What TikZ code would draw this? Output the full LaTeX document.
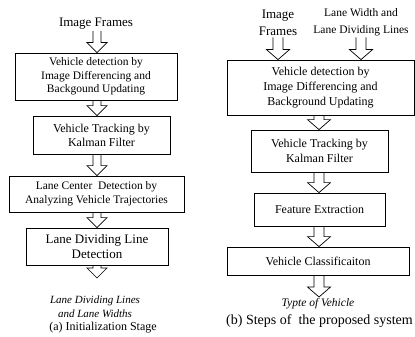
\documentclass[tikz,border=0pt]{standalone}
\usepackage{fontspec}
\setmainfont{Liberation Serif}
\usetikzlibrary{calc}

\tikzset{
  stagebox/.style={draw, line width=0.8pt, align=center, inner sep=0pt, font=\fontsize{11.5}{13.5}\selectfont},
  headtext/.style={align=center, inner sep=1pt, font=\fontsize{13}{17.5}\selectfont},
  outtext/.style={align=center, inner sep=0pt, font=\fontsize{11}{14}\selectfont\itshape},
  captext/.style={inner sep=0pt, font=\fontsize{12}{14}\selectfont}
}

% hollow block arrow, x taken from the start point
\newcommand{\bigarrow}[2]{%
  \draw[line width=0.7pt, line join=miter] let \p1=(#1), \p2=(#2) in
    (\x1-\shaft pt,\y1) -- (\x1-\shaft pt,\y2+\headlen pt) -- (\x1-\head pt,\y2+\headlen pt) -- (\x1,\y2)
    -- (\x1+\head pt,\y2+\headlen pt) -- (\x1+\shaft pt,\y2+\headlen pt) -- (\x1+\shaft pt,\y1);}

\begin{document}
\begin{tikzpicture}[x=1pt,y=-1pt]
\useasboundingbox (0,0) rectangle (415,337);

\def\shaft{4}
\def\head{10}
\def\headlen{10}

% (a) initialization stage
\coordinate (spineA) at (97,0);
\node[headtext] (frA) at (96,24) {Image Frames};
\node[stagebox, minimum width=162, minimum height=47] (detA) at (96,76.5) {Vehicle detection by\\Image Differencing and\\Backgound Updating};
\node[stagebox, font=\fontsize{12}{14}\selectfont, minimum width=137, minimum height=38] (trkA) at (101.5,135) {Vehicle Tracking by\\Kalman Filter};
\node[stagebox, minimum width=175, minimum height=36] (ctrA) at (96.5,194) {Lane Center\ \ Detection by\\Analyzing Vehicle Trajectories};
\node[stagebox, font=\fontsize{13}{15.3}\selectfont, minimum width=142, minimum height=37] (divA) at (97,246.5) {Lane Dividing Line\\Detection};
\coordinate (endA) at (97,278);
\node[outtext] (outA) at (95,307) {Lane Dividing Lines\\and Lane Widths};
\node[captext] (capA) at (103,328) {(a) Initialization Stage};

\bigarrow{frA.south -| spineA}{detA.north}
\bigarrow{detA.south -| spineA}{trkA.north}
\bigarrow{trkA.south -| spineA}{ctrA.north}
\bigarrow{ctrA.south -| spineA}{divA.north}
\bigarrow{divA.south -| spineA}{endA}

% (b) steps of the proposed system
\def\shaft{5}
\def\head{11.5}
\coordinate (spineB) at (319,0);
\node[headtext] (frB) at (278,23) {Image\\Frames};
\node[headtext, font=\fontsize{11.5}{17}\selectfont] (lwB) at (361,22.5) {Lane Width and\\Lane Dividing Lines};
\node[stagebox, font=\fontsize{12}{15}\selectfont, minimum width=187, minimum height=55] (detB) at (320.5,87.5) {Vehicle detection by\\Image Differencing and\\Background Updating};
\node[stagebox, font=\fontsize{12}{15}\selectfont, minimum width=137, minimum height=42] (trkB) at (319.5,151) {Vehicle Tracking by\\Kalman Filter};
\node[stagebox, font=\fontsize{12}{15}\selectfont, minimum width=131, minimum height=33] (featB) at (319.5,209.5) {Feature Extraction};
\node[stagebox, font=\fontsize{12}{15}\selectfont, minimum width=182, minimum height=28] (clsB) at (318,261) {Vehicle Classificaiton};
\coordinate (endB) at (319,297);
\node[outtext, font=\fontsize{11.5}{14}\selectfont\itshape] (outB) at (318,304) {Typte of Vehicle};
\node[captext, font=\fontsize{14}{16}\selectfont] (capB) at (319.5,321) {(b) Steps of\ \ the proposed system};

\bigarrow{frB.south}{detB.north -| frB.south}
\bigarrow{lwB.south}{detB.north -| lwB.south}
\bigarrow{detB.south -| spineB}{trkB.north}
\bigarrow{trkB.south -| spineB}{featB.north}
\bigarrow{featB.south -| spineB}{clsB.north}
\bigarrow{clsB.south -| spineB}{endB}

\end{tikzpicture}
\end{document}
